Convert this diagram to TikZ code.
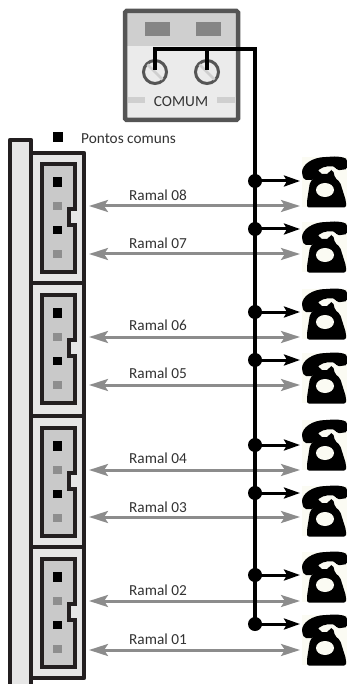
\documentclass[tikz,border=0pt]{standalone}
\usepackage{fontspec}
\setmainfont{Carlito}
\usetikzlibrary{arrows.meta}
\definecolor{ink}{HTML}{231F20}
\definecolor{pinGray}{HTML}{8E8E8E}
\definecolor{connGray}{HTML}{C9C9C9}
\definecolor{blockGray}{HTML}{E6E6E6}
\definecolor{wireGray}{HTML}{8C8C8C}
\definecolor{frameGray}{HTML}{555555}
\definecolor{bandGray}{HTML}{CFCFCF}
\definecolor{boxGray}{HTML}{EBEBEB}
\definecolor{slotGray}{HTML}{858585}
\definecolor{txtGray}{HTML}{333333}
\definecolor{cream}{HTML}{FBFBF3}
\tikzset{
  lbl/.style={font=\fontsize{15.3}{17}\selectfont, text=txtGray, inner sep=0pt},
  pinblack/.style={fill=black, draw=none, minimum size=9.5pt, inner sep=0pt, rectangle},
  pingray/.style={fill=pinGray, draw=none, minimum size=8.5pt, inner sep=0pt, rectangle},
  ramalwire/.style={draw=wireGray, line width=3pt, {Stealth[length=19pt,width=12pt,inset=4pt]}-{Stealth[length=19pt,width=12pt,inset=4pt]}},
  busline/.style={draw=black, line width=3.2pt},
  stubwire/.style={draw=black, line width=3pt, -{Stealth[length=16pt,width=11pt,inset=3pt]}},
  busdot/.style={circle, fill=black, draw=none, minimum size=14pt, inner sep=0pt},
  screwhead/.style={circle, draw=frameGray, line width=3pt, fill=boxGray, minimum size=23pt, inner sep=0pt},
  phonespot/.style={inner sep=0pt, minimum width=45pt, minimum height=50pt, fill=cream, anchor=north west},
  phonepic/.pic={
    % body with prongs
    \fill[black, rounded corners=2pt] (12,21) -- (14,13) -- (17.5,13) -- (18,17) -- (27,17) -- (27.5,13) -- (31,13) -- (33,21)
      -- (38,25) -- (44,44) -- (44,50.5) -- (5,50.5) -- (5,44) -- (8,25) -- cycle;
    \fill[cream] (23,33) ellipse[x radius=9, y radius=7];
    % handset
    \fill[black, rounded corners=2pt] (0,17) .. controls (0,8) and (10,0) .. (26,0) .. controls (34,-1) and (42,0) .. (45.5,3)
      -- (45.5,12) -- (35,13.5) -- (33,9.5) .. controls (24,8.5) and (17,11) .. (14,17) -- (12,23) -- (2,23) -- cycle;
  }
}
\begin{document}
\begin{tikzpicture}[x=1pt,y=-1pt]
\useasboundingbox (0,0) rectangle (347,684);
\fill[white] (0,0) rectangle (347,684);

% left rail
\fill[blockGray] (10,140) rectangle (31,684);
\draw[ink, line width=4.5pt, line join=round] (10,684) -- (10,140) -- (31,140) -- (31,684);

% connector blocks
\foreach \bt/\bb/\T/\k in {153/283/162/1, 283/416/293/2, 416/547/426/3, 547/678/557/4}{
  \filldraw[draw=ink, fill=blockGray, line width=4.5pt, line join=round] (31,\bt) rectangle (84,\bb);
  \filldraw[draw=ink, fill=connGray, line width=4.5pt, line join=miter]
    (42,\T+2) -- (75,\T+2) -- (75,\T+47) -- (69,\T+47) -- (69,\T+63) -- (75,\T+63) -- (75,\T+110) -- (42,\T+110) -- cycle;
  \fill[blockGray] (71.5,\T+49.5) rectangle (81.5,\T+60.5);
  \node[pinblack] (pa\k) at (57.5,\T+20) {};
  \node[pingray]  (pb\k) at (57.5,\T+44) {};
  \node[pinblack, minimum size=8.5pt] (pc\k) at (57.5,\T+68) {};
  \node[pingray]  (pd\k) at (57.5,\T+92) {};
}

% legend
\node[pinblack] (legendpin) at (58,137) {};
\node[lbl, anchor=west] (legendtxt) at (81,139) {Pontos comuns};

% COMUM box
\fill[boxGray] (125,11) rectangle (238,120);
\fill[bandGray] (125,11) rectangle (238,46);
\fill[slotGray] (145,22) rectangle (170,36);
\fill[slotGray] (196,22) rectangle (221,36);
\fill[bandGray] (128,97) rectangle (145,103);
\fill[bandGray] (217,97) rectangle (235,103);
\draw[frameGray, line width=4.5pt, rounded corners=1.5pt] (125,11) rectangle (238,120);
\node[lbl] (comum) at (181,102) {COMUM};
\node[screwhead] (s1) at (155,72) {};
\node[screwhead] (s2) at (207,72) {};
\draw[bandGray, line width=2.6pt] (147.5,64.5) -- (162.5,79.5);
\draw[bandGray, line width=2.6pt] (199.5,64.5) -- (214.5,79.5);

% phones
\foreach \i/\py in {1/157, 2/222, 3/289, 4/353, 5/420, 6/486, 7/552, 8/615}{
  \node[phonespot] (ph\i) at (302,\py) {};
  \pic at (302,\py) {phonepic};
}

% bus
\coordinate (busTL) at (155,49);
\coordinate (busTM) at (207,49);
\coordinate (busTR) at (255,49);
\coordinate (screwA) at (155,70);
\coordinate (screwB) at (207,70);

% ramal wires, stubs
\foreach \n/\gy/\sy/\ty in {8/206/181/195, 7/254/229/243, 6/337/312/325, 5/385/360/373, 4/470/445/458, 3/517/493/507, 2/601/575/590, 1/650/624/639}{
  \coordinate (gl\n) at (89,\gy);
  \coordinate (gr\n) at (300,\gy);
  \draw[ramalwire] (gl\n) -- (gr\n);
  \node[lbl] (r\n) at (158,\ty) {Ramal 0\n};
  \coordinate (st\n) at (300,\sy);
  \node[busdot] (d\n) at (255,\sy) {};
  \draw[stubwire] (d\n.center) -- (st\n);
}
\draw[busline, line join=miter] (screwA) -- (busTL) -- (busTR) -- (d1.center);
\draw[busline] (busTM) -- (screwB);
\draw[busline] (d8.center) -- (d1.center);
\end{tikzpicture}
\end{document}
